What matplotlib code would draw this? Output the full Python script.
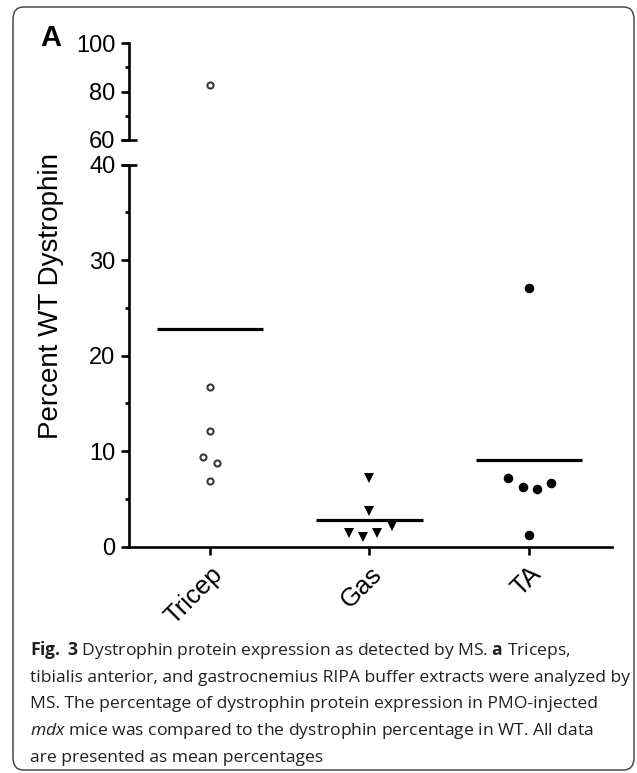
"""Fig. 3A: dystrophin expression by MS, scatter with means on a broken y axis."""
import matplotlib
matplotlib.use("Agg")
import matplotlib.pyplot as plt
import numpy as np
from matplotlib.patches import FancyBboxPatch

plt.rcParams["font.family"] = ["Liberation Sans", "DejaVu Sans"]
plt.rcParams["mathtext.fontset"] = "custom"
plt.rcParams["mathtext.rm"] = "Open Sans"
plt.rcParams["mathtext.it"] = "Open Sans:italic"
plt.rcParams["mathtext.bf"] = "Open Sans:bold"

# --- data (percent of WT dystrophin) ---
muscles = ["Tricep", "Gas", "TA"]
tricep = [82.8, 16.7, 12.1, 9.4, 8.8, 6.9]
gas = [7.2, 3.7, 1.4, 1.0, 1.4, 2.2]
ta = [27.1, 7.2, 6.3, 6.0, 6.7, 1.2]
# horizontal spread of overlapping points, as drawn by the original software
tricep_dx = [0, 0, 0, -0.046, 0.042, 0]
gas_dx = [0, 0, -0.13, -0.042, 0.05, 0.14]
ta_dx = [0, -0.13, -0.04, 0.05, 0.14, 0]

groups = [
    (tricep, tricep_dx, dict(marker="o", ms=4.4, mfc="white", mec="#3a3a3a", mew=1.5)),
    (gas, gas_dx, dict(marker="v", ms=7.0, mfc="black", mec="black", mew=0)),
    (ta, ta_dx, dict(marker="o", ms=6.9, mfc="black", mec="black", mew=0)),
]

W, H = 637, 773
fig = plt.figure(figsize=(W / 100, H / 100), dpi=100)

x0, x1 = 128.5, 612.0
def px_axes(top, bottom):
    return [x0 / W, 1 - bottom / H, (x1 - x0) / W, (bottom - top) / H]

ax_top = fig.add_axes(px_axes(43.3, 140.0))
ax_bot = fig.add_axes(px_axes(164.7, 546.7))

lw = 1.9
for ax in (ax_top, ax_bot):
    for i, (vals, dx, style) in enumerate(groups):
        xs = i + np.array(dx)
        ax.plot(xs, vals, ls="none", clip_on=True, zorder=3, **style)
        ax.hlines(np.mean(vals), i - 0.334, i + 0.334, color="black", lw=2.3, zorder=2)
    ax.set_xlim(-0.51, 2.52)
    for s in ("top", "right"):
        ax.spines[s].set_visible(False)
    ax.spines["left"].set_linewidth(lw)
    ax.tick_params(axis="y", which="major", length=5.8, width=lw, pad=3.5, labelsize=17)
    ax.tick_params(axis="y", which="minor", length=2.9, width=lw)

ax_top.set_ylim(60, 100)
ax_top.set_yticks([60, 80, 100])
ax_top.set_yticks([70, 90], minor=True)
ax_top.spines["bottom"].set_visible(False)
ax_top.set_xticks([])

ax_bot.set_ylim(0, 40)
ax_bot.set_yticks([0, 10, 20, 30, 40])
ax_bot.set_yticks([5, 15, 25, 35], minor=True)
ax_bot.spines["bottom"].set_linewidth(lw)
ax_bot.set_xticks(range(len(muscles)))
ax_bot.set_xticklabels(muscles, rotation=45, ha="right", va="top",
                       rotation_mode="anchor", fontsize=18.5)
ax_bot.tick_params(axis="x", length=5.8, width=lw, pad=5)

# end caps at the axis break
for ax, yv in ((ax_top, 60), (ax_bot, 40)):
    ax.plot([-0.0165, 0.018], [yv, yv], color="black", lw=lw,
            transform=ax.get_yaxis_transform(), clip_on=False, solid_capstyle="butt")

fig.text(51 / W, 1 - 296 / H, "Percent WT Dystrophin", rotation=90,
         ha="center", va="center", fontsize=20)
fig.text(40 / W, 1 - 38 / H, "A", ha="left", va="center", fontsize=21, fontweight="bold")

# caption
caption = [
    r"$\mathbf{Fig.}$ $\mathbf{3}$ Dystrophin protein expression as detected by MS. $\mathbf{a}$ Triceps,",
    "tibialis anterior, and gastrocnemius RIPA buffer extracts were analyzed by",
    "MS. The percentage of dystrophin protein expression in PMO-injected",
    r"$\mathit{mdx}$ mice was compared to the dystrophin percentage in WT. All data",
    "are presented as mean percentages",
]
baselines = [655, 681.7, 708.3, 735, 761.7]
for line, yb in zip(caption, baselines):
    fig.text(30 / W, 1 - yb / H, line, ha="left", va="baseline", fontsize=12.6,
             family="Open Sans", color="#231f20")

box = FancyBboxPatch((13 / W, 3 / H), (634 - 13) / W, (766 - 3) / H,
                     boxstyle="round,pad=0,rounding_size=0.016",
                     transform=fig.transFigure, fill=False, ec="#4a4a4a", lw=1.1)
fig.patches.append(box)

fig.savefig("out.png", dpi=100)
